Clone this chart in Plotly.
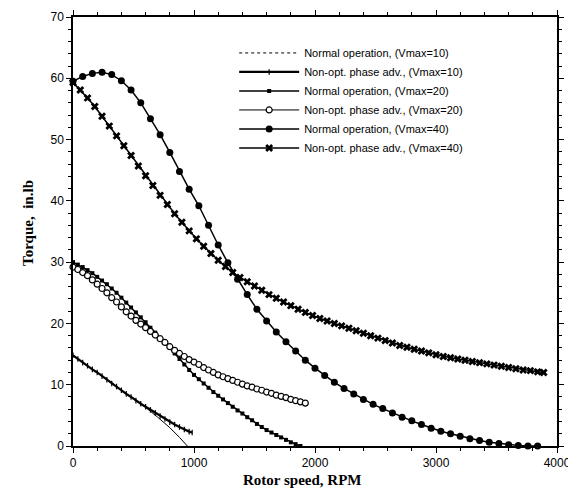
import plotly.graph_objects as go

# ---------------- data ----------------
# Normal operation, Vmax=10 (thin line)
n10_x = [0, 100, 200, 300, 400, 500, 600, 700, 800, 880, 945]
n10_y = [14.8, 13.4, 12.0, 10.5, 9.1, 7.7, 6.3, 4.7, 3.0, 1.4, 0.0]

# Non-opt. phase adv., Vmax=10
p10_x = [0, 40, 80, 120, 160, 200, 240, 280, 320, 360, 400, 440, 480, 520, 560,
         600, 640, 680, 720, 760, 800, 840, 880, 920, 960, 985]
p10_y = [14.8, 14.2, 13.6, 13.1, 12.5, 12.0, 11.4, 10.8, 10.2, 9.7, 9.1, 8.5, 8.0,
         7.4, 6.9, 6.4, 5.9, 5.4, 4.9, 4.4, 3.9, 3.5, 3.1, 2.7, 2.35, 2.2]

# Normal operation, Vmax=20
n20_x = [0, 40, 80, 120, 160, 200, 240, 280, 320, 360, 400, 440, 480, 520, 560,
         600, 640, 680, 720, 760, 800, 840, 880, 920, 960, 1000, 1040, 1080, 1120,
         1160, 1200, 1240, 1280, 1320, 1360, 1400, 1440, 1480, 1520, 1560, 1600,
         1640, 1680, 1720, 1760, 1800, 1840, 1880]
n20_y = [30.0, 29.6, 29.2, 28.7, 28.2, 27.6, 27.0, 26.4, 25.7, 25.0, 24.2, 23.4,
         22.6, 21.8, 21.0, 20.2, 19.3, 18.5, 17.7, 16.9, 16.0, 15.1, 14.2, 13.3,
         12.4, 11.6, 10.9, 10.2, 9.5, 8.8, 8.2, 7.6, 7.0, 6.4, 5.8, 5.3, 4.7, 4.2,
         3.6, 3.1, 2.6, 2.2, 1.8, 1.4, 1.0, 0.6, 0.3, 0.0]

# Non-opt. phase adv., Vmax=20
p20_x = [0, 40, 80, 120, 160, 200, 240, 280, 320, 360, 400, 440, 480, 520, 560,
         600, 640, 680, 720, 760, 800, 840, 880, 920, 960, 1000, 1040, 1080, 1120,
         1160, 1200, 1240, 1280, 1320, 1360, 1400, 1440, 1480, 1520, 1560, 1600,
         1640, 1680, 1720, 1760, 1800, 1840, 1880, 1920]
p20_y = [29.2, 28.8, 28.3, 27.8, 27.1, 26.4, 25.7, 25.0, 24.2, 23.5, 22.7, 21.9,
         21.2, 20.5, 19.9, 19.3, 18.7, 18.1, 17.5, 16.9, 16.2, 15.6, 15.1, 14.6,
         14.1, 13.7, 13.3, 12.8, 12.4, 12.0, 11.6, 11.3, 11.0, 10.7, 10.4, 10.1,
         9.8, 9.6, 9.3, 9.1, 8.8, 8.6, 8.3, 8.1, 7.9, 7.6, 7.4, 7.2, 7.0]

# Normal operation, Vmax=40
n40_x = [0, 80, 160, 240, 320, 400, 480, 560, 640, 720, 800, 880, 960, 1040, 1120,
         1200, 1280, 1360, 1440, 1520, 1600, 1680, 1760, 1840, 1920, 2000, 2080,
         2160, 2240, 2320, 2400, 2480, 2560, 2640, 2720, 2800, 2880, 2960, 3040,
         3120, 3200, 3280, 3360, 3440, 3520, 3600, 3680, 3760, 3840]
n40_y = [59.5, 60.3, 60.8, 61.0, 60.6, 59.6, 58.1, 56.0, 53.4, 50.8, 47.9, 44.8,
         41.9, 39.2, 36.0, 32.8, 29.9, 27.2, 24.7, 22.3, 20.4, 18.6, 17.0, 15.5,
         14.0, 12.7, 11.5, 10.4, 9.4, 8.5, 7.6, 6.8, 6.1, 5.4, 4.7, 4.1, 3.5, 2.9,
         2.4, 2.0, 1.6, 1.2, 0.9, 0.6, 0.4, 0.2, 0.1, 0.0, 0.0]

# Non-opt. phase adv., Vmax=40
p40_x = [0, 60, 120, 180, 240, 300, 360, 420, 480, 540, 600, 660, 720, 780, 840,
         900, 960, 1020, 1080, 1140, 1200, 1260, 1320, 1380, 1440, 1500, 1560,
         1620, 1680, 1740, 1800, 1860, 1920, 1980, 2040, 2100, 2160, 2220, 2280,
         2340, 2400, 2460, 2520, 2580, 2640, 2700, 2760, 2820, 2880, 2940, 3000,
         3060, 3120, 3180, 3240, 3300, 3360, 3420, 3480, 3540, 3600, 3660, 3720,
         3780, 3840, 3890]
p40_y = [59.3, 58.1, 56.8, 55.4, 53.8, 52.2, 50.6, 49.0, 47.4, 45.7, 44.1, 42.5,
         40.9, 39.4, 37.9, 36.5, 35.1, 33.8, 32.6, 31.4, 30.3, 29.3, 28.3, 27.5,
         26.8, 26.1, 25.4, 24.7, 24.1, 23.5, 22.9, 22.3, 21.8, 21.3, 20.8, 20.4,
         20.0, 19.6, 19.2, 18.8, 18.4, 18.0, 17.6, 17.2, 16.8, 16.4, 16.1, 15.8,
         15.5, 15.2, 14.9, 14.6, 14.4, 14.2, 14.0, 13.8, 13.6, 13.4, 13.2, 13.0,
         12.8, 12.6, 12.4, 12.3, 12.1, 12.0]

names = [
    "Normal operation, (Vmax=10)",
    "Non-opt. phase adv., (Vmax=10)",
    "Normal operation, (Vmax=20)",
    "Non-opt. phase adv., (Vmax=20)",
    "Normal operation, (Vmax=40)",
    "Non-opt. phase adv., (Vmax=40)",
]

x_ticks = [0, 1000, 2000, 3000, 4000]
y_ticks = [0, 10, 20, 30, 40, 50, 60, 70]
x_title = "Rotor speed, RPM"
y_title = "Torque,  in.lb"

# ---------------- figure ----------------
fig = go.Figure()
K = "black"

# Vmax=10 normal: thin line in the plot, dotted sample in legend
fig.add_trace(go.Scatter(x=n10_x, y=n10_y, mode="lines", showlegend=False,
                         line=dict(color=K, width=1), cliponaxis=False))
fig.add_trace(go.Scatter(x=[None], y=[None], mode="lines", name=names[0],
                         line=dict(color=K, width=1, dash="dot")))

fig.add_trace(go.Scatter(x=p10_x, y=p10_y, mode="lines+markers", name=names[1],
                         line=dict(color=K, width=2.2),
                         marker=dict(symbol="line-ns", size=4,
                                     line=dict(color=K, width=1.2)),
                         cliponaxis=False))

fig.add_trace(go.Scatter(x=n20_x, y=n20_y, mode="lines+markers", name=names[2],
                         line=dict(color=K, width=1.5),
                         marker=dict(symbol="square", size=4, color=K),
                         cliponaxis=False))

fig.add_trace(go.Scatter(x=p20_x, y=p20_y, mode="lines+markers", name=names[3],
                         line=dict(color=K, width=1),
                         marker=dict(symbol="circle", size=6, color="white",
                                     line=dict(color=K, width=1.2)),
                         cliponaxis=False))

fig.add_trace(go.Scatter(x=n40_x, y=n40_y, mode="lines+markers", name=names[4],
                         line=dict(color=K, width=1.5),
                         marker=dict(symbol="circle", size=7, color=K),
                         cliponaxis=False))

fig.add_trace(go.Scatter(x=p40_x, y=p40_y, mode="lines+markers", name=names[5],
                         line=dict(color=K, width=1.5),
                         marker=dict(symbol="x", size=7, color=K),
                         cliponaxis=False))

axis_common = dict(
    showgrid=False, zeroline=False, showline=True, linecolor=K, linewidth=1.5,
    ticks="outside", ticklen=5, tickwidth=1.2, tickcolor=K, mirror="allticks",
    automargin=False, ticklabeloverflow="allow",
    tickfont=dict(family="Liberation Sans, Arial, sans-serif", size=12, color=K),
)

fig.update_xaxes(range=[0, 4000], tickvals=x_ticks,
                 minor=dict(dtick=200, ticks="outside", ticklen=3, tickcolor=K, tickwidth=1),
                 **axis_common)
fig.update_yaxes(range=[0, 70], tickvals=y_ticks,
                 minor=dict(dtick=2, ticks="outside", ticklen=3, tickcolor=K, tickwidth=1),
                 **axis_common)

title_font = dict(family="Liberation Serif, Times New Roman, serif", size=15, color=K)
fig.add_annotation(text="<b>" + x_title + "</b>", xref="paper", yref="paper",
                   x=0.473, y=-0.08, xanchor="center", yanchor="middle",
                   showarrow=False, font=title_font)
fig.add_annotation(text="<b>" + y_title + "</b>", xref="paper", yref="paper",
                   x=-0.093, y=0.52, xanchor="center", yanchor="middle",
                   textangle=-90, showarrow=False, font=title_font)

# the page adds an 8 px body margin, so the figure is sized to fit inside it
fig.update_layout(
    width=568, height=490,
    margin=dict(l=65, r=19, t=9, b=52),
    paper_bgcolor="white", plot_bgcolor="white",
    showlegend=True,
    legend=dict(x=0.333, y=0.95, xanchor="left", yanchor="top",
                bgcolor="rgba(0,0,0,0)", borderwidth=0, itemwidth=60,
                font=dict(family="Liberation Sans, Arial, sans-serif", size=11, color=K)),
)

fig.write_html("out.html")
